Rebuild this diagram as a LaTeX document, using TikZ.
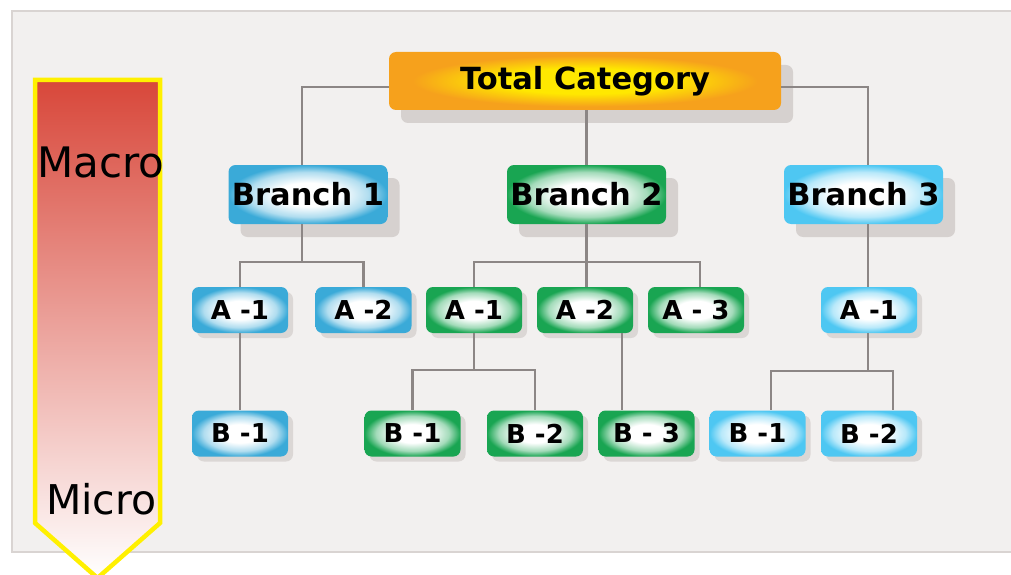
\documentclass[tikz,border=0pt]{standalone}
\usepackage{fontspec}
\newfontfamily\vfont{DejaVu Sans}
\usetikzlibrary{shadows}
\definecolor{panel}{HTML}{F2F0EF}
\definecolor{panelline}{HTML}{D9D4D2}
\definecolor{connc}{HTML}{8C8685}
\definecolor{shad}{HTML}{D6D1CF}
\definecolor{cblue}{HTML}{3AAAD8}
\definecolor{cgreen}{HTML}{19A552}
\definecolor{clight}{HTML}{4EC7F2}
\definecolor{corange}{HTML}{F6A11C}
\definecolor{cyellow}{HTML}{FFE800}
\definecolor{arrowline}{HTML}{FFF000}
\definecolor{arrtop}{HTML}{D8473A}
\definecolor{arrmid}{HTML}{EBB09C}
\pgfdeclareradialshading{glowblue}{\pgfpoint{0bp}{0bp}}{color(0bp)=(white); color(10bp)=(white); color(19bp)=(cblue!40!white); color(25bp)=(cblue); color(50bp)=(cblue)}
\pgfdeclareradialshading{glowgreen}{\pgfpoint{0bp}{0bp}}{color(0bp)=(white); color(10bp)=(white); color(19bp)=(cgreen!40!white); color(25bp)=(cgreen); color(50bp)=(cgreen)}
\pgfdeclareradialshading{glowlight}{\pgfpoint{0bp}{0bp}}{color(0bp)=(white); color(10bp)=(white); color(19bp)=(clight!40!white); color(25bp)=(clight); color(50bp)=(clight)}
\pgfdeclareradialshading{gloworange}{\pgfpoint{0bp}{0bp}}{color(0bp)=(cyellow); color(11bp)=(cyellow); color(22bp)=(corange); color(25bp)=(corange); color(50bp)=(corange)}
\tikzset{
  box/.style={rounded corners=7pt, inner sep=0pt, text=black},
  bigbox/.style={box, minimum width=159pt, minimum height=59pt,
    font=\vfont\bfseries\fontsize{30.5}{30.5}\selectfont,
    drop shadow={shadow xshift=12pt, shadow yshift=-13pt, fill=shad, opacity=1}},
  smallbox/.style={box, minimum width=96pt, minimum height=46pt,
    font=\vfont\bfseries\fontsize{26}{26}\selectfont,
    drop shadow={shadow xshift=5pt, shadow yshift=-5pt, fill=shad, opacity=0.8}},
  blueb/.style={shading=glowblue},
  greenb/.style={shading=glowgreen},
  lightb/.style={shading=glowlight},
  conn/.style={draw=connc, line width=2.5pt},
}
\begin{document}
\begin{tikzpicture}[x=1pt, y=-1pt]
\useasboundingbox (0,0) rectangle (1011,575);
% panel
\fill[panel] (12,11) rectangle (1011,552);
\draw[panelline, line width=2.5pt] (1011,11) -- (12,11) -- (12,552) -- (1011,552);
% arrow
\begin{scope}
\clip (0,0) rectangle (1011,575);
\shade[top color=arrtop, middle color=arrmid, bottom color=white]
  (35,80) -- (160,80) -- (160,523) -- (97.5,578) -- (35,523) -- cycle;
\draw[arrowline, line width=4.5pt, line join=miter]
  (35,80) -- (160,80) -- (160,523) -- (97.5,578) -- (35,523) -- cycle;
\end{scope}
\node[anchor=base west, inner sep=0pt, font=\vfont\fontsize{42}{42}\selectfont] (macro) at (37,177) {Macro};
\node[anchor=base west, inner sep=0pt, font=\vfont\fontsize{41}{41}\selectfont] (micro) at (46,514) {Micro};
% top
\node[bigbox, minimum width=392pt, minimum height=58pt, shading=gloworange] (tot) at (585,81) {Total Category};
% branches
\node[bigbox, blueb] (b1) at (308,194.5) {Branch 1};
\node[bigbox, greenb] (b2) at (586.5,194.5) {Branch 2};
\node[bigbox, lightb] (b3) at (863.5,194.5) {Branch 3};
% level A
\node[smallbox, blueb] (b1a1) at (240,310) {A -1};
\node[smallbox, blueb] (b1a2) at (363.5,310) {A -2};
\node[smallbox, greenb] (b2a1) at (474,310) {A -1};
\node[smallbox, greenb] (b2a2) at (585,310) {A -2};
\node[smallbox, greenb] (b2a3) at (696,310) {A - 3};
\node[smallbox, lightb] (b3a1) at (869,310) {A -1};
% level B
\node[smallbox, blueb] (b1b1) at (240,433.5) {B -1};
\node[smallbox, greenb] (b2b1) at (412.5,433.5) {B -1};
\node[smallbox, greenb] (b2b2) at (535,433.5) {B -2};
\node[smallbox, greenb] (b2b3) at (646.5,433.5) {B - 3};
\node[smallbox, lightb] (b3b1) at (757.5,433.5) {B -1};
\node[smallbox, lightb] (b3b2) at (869,433.5) {B -2};
% connectors: top level
\draw[conn] ([yshift=-6pt]tot.west) -| ([xshift=-6pt]b1.north);
\draw[conn] ([yshift=-6pt]tot.east) -| ([xshift=4.5pt]b3.north);
\draw[conn] (b2.north |- tot.south) -- (b2.north);
% branch 1
\draw[conn] ([xshift=-6pt]b1.south) -- ++(0,38) -| (b1a1.north);
\draw[conn] ([xshift=-6pt]b1.south) -- ++(0,38) -| (b1a2.north);
\draw[conn] (b1a1.south) -- (b1b1.north);
% branch 2
\draw[conn] (b2.south) -- ++(0,38) -| (b2a1.north);
\draw[conn] (b2.south) -- ++(0,38) -| ([xshift=4pt]b2a3.north);
\draw[conn] (b2.south) -- (b2.south |- b2a2.north);
\draw[conn] (b2a1.south) -- ++(0,37) -| (b2b1.north);
\draw[conn] (b2a1.south) -- ++(0,37) -| (b2b2.north);
\draw[conn] ([xshift=37pt]b2a2.south) -- ([xshift=37pt]b2a2.south |- b2b3.north);
% branch 3
\draw[conn] ([xshift=-1pt]b3a1.north |- b3.south) -- ([xshift=-1pt]b3a1.north);
\draw[conn] ([xshift=-1pt]b3a1.south) -- ++(0,38) -| ([xshift=13.5pt]b3b1.north);
\draw[conn] ([xshift=-1pt]b3a1.south) -- ++(0,38) -| ([xshift=24pt]b3b2.north);
\end{tikzpicture}
\end{document}
